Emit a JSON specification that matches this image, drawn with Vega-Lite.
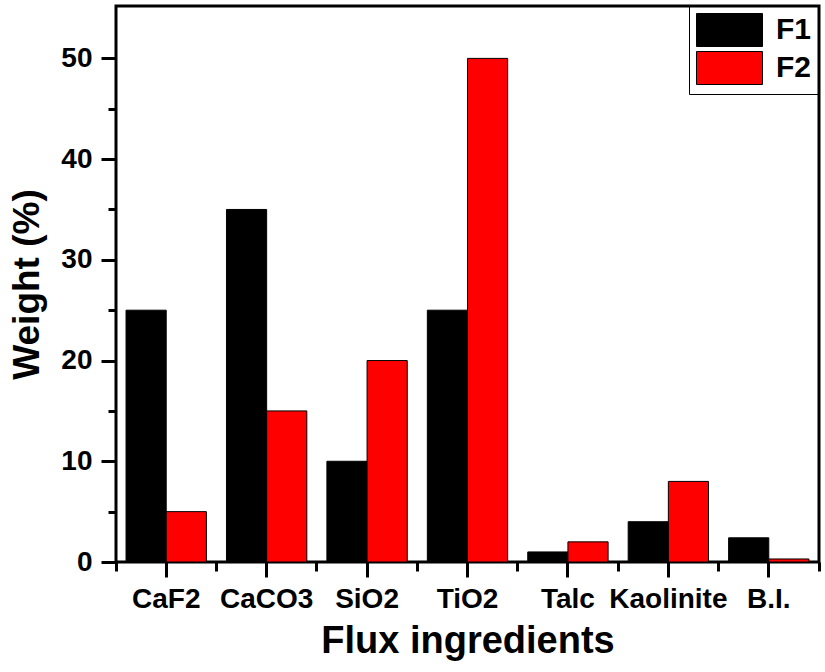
{
  "$schema": "https://vega.github.io/schema/vega-lite/v6.json",
  "width": 703,
  "height": 556,
  "autosize": {"type": "none"},
  "padding": {"left": 116, "top": 6, "right": 6, "bottom": 110},
  "background": "white",
  "config": {
    "view": {"stroke": "black", "strokeWidth": 3},
    "font": "Liberation Sans",
    "axis": {"domain": false, "grid": false, "tickColor": "black", "tickWidth": 3, "labelColor": "black", "titleColor": "black", "labelFont": "Liberation Sans", "titleFont": "Liberation Sans", "labelFontWeight": "bold", "titleFontWeight": "bold"}
  },
  "data": {
    "values": [
      {"ingredient": "CaF2", "series": "F1", "weight": 25},
      {"ingredient": "CaF2", "series": "F2", "weight": 5},
      {"ingredient": "CaCO3", "series": "F1", "weight": 35},
      {"ingredient": "CaCO3", "series": "F2", "weight": 15},
      {"ingredient": "SiO2", "series": "F1", "weight": 10},
      {"ingredient": "SiO2", "series": "F2", "weight": 20},
      {"ingredient": "TiO2", "series": "F1", "weight": 25},
      {"ingredient": "TiO2", "series": "F2", "weight": 50},
      {"ingredient": "Talc", "series": "F1", "weight": 1},
      {"ingredient": "Talc", "series": "F2", "weight": 2},
      {"ingredient": "Kaolinite", "series": "F1", "weight": 4},
      {"ingredient": "Kaolinite", "series": "F2", "weight": 8},
      {"ingredient": "B.I.", "series": "F1", "weight": 2.4},
      {"ingredient": "B.I.", "series": "F2", "weight": 0.3}
    ]
  },
  "layer": [
    {
      "mark": {"type": "bar", "stroke": "black", "strokeWidth": 1},
      "encoding": {
        "x": {
          "field": "ingredient", "type": "nominal", "sort": null,
          "scale": {"paddingInner": 0.2, "paddingOuter": 0.1},
          "axis": {"orient": "bottom", "labelAngle": 0, "labelFontSize": 28, "labelPadding": 8, "tickSize": 15, "title": "Flux ingredients", "titleFontSize": 38, "titlePadding": 9}
        },
        "xOffset": {"field": "series", "type": "nominal"},
        "y": {
          "field": "weight", "type": "quantitative",
          "scale": {"domain": [0, 55.2], "nice": false, "zero": true},
          "axis": {
            "values": [0, 5, 10, 15, 20, 25, 30, 35, 40, 45, 50],
            "labelExpr": "datum.value % 10 === 0 ? datum.label : ''",
            "tickSize": {"condition": {"test": "datum.value % 10 === 0", "value": 15}, "value": 8},
            "labelFontSize": 28, "labelPadding": 9,
            "title": "Weight (%)", "titleFontSize": 37, "titlePadding": 14
          }
        },
        "color": {
          "field": "series", "type": "nominal",
          "scale": {"domain": ["F1", "F2"], "range": ["#000000", "#ff0000"]},
          "legend": {
            "title": null, "orient": "top-right", "offset": 0,
            "strokeColor": "black", "padding": 7,
            "symbolType": "M-1,-1H3V1H-1Z", "symbolSize": 1089,
            "symbolStrokeColor": "black", "symbolStrokeWidth": 1,
            "rowPadding": 0, "labelFontSize": 30, "labelFont": "Liberation Sans", "labelFontWeight": "bold", "labelColor": "black", "labelOffset": 46
          }
        }
      }
    },
    {
      "mark": {"type": "bar", "opacity": 0},
      "encoding": {
        "x": {"field": "ingredient", "type": "nominal", "sort": null, "axis": {"orient": "bottom", "bandPosition": -0.125, "labels": false, "tickSize": 9, "title": null}},
        "y": {"field": "weight", "type": "quantitative"}
      }
    },
    {
      "mark": {"type": "bar", "opacity": 0},
      "encoding": {
        "x": {"field": "ingredient", "type": "nominal", "sort": null, "axis": {"orient": "bottom", "bandPosition": 1.125, "values": ["B.I."], "labels": false, "tickSize": 9, "title": null}},
        "y": {"field": "weight", "type": "quantitative"}
      }
    }
  ],
  "resolve": {"axis": {"x": "independent"}}
}
